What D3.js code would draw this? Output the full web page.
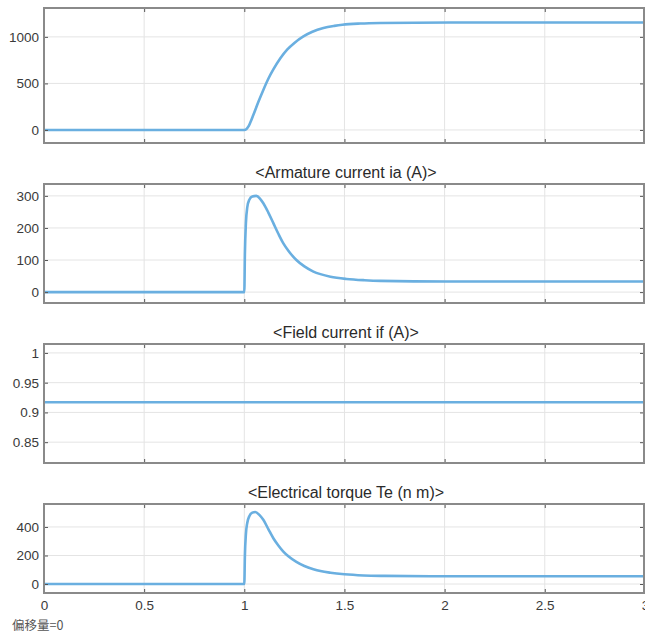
<!DOCTYPE html>
<html>
<head>
<meta charset="utf-8">
<script src="https://cdn.jsdelivr.net/npm/d3@7"></script>
<style>
  body { margin: 0; background: #fff; }
  .tick text { font-family: "Liberation Sans", Arial, sans-serif; font-size: 13.5px; fill: #3a3a3a; }
  .title { font-family: "Liberation Sans", Arial, sans-serif; font-size: 16px; fill: #2a2a2a; }
</style>
</head>
<body>
<div id="chart"></div>
<script>
// Speed (top panel, title cropped off)
var speedTime   = [0, 1.0, 1.01, 1.02, 1.03, 1.045, 1.07, 1.095, 1.12, 1.145, 1.18, 1.215, 1.25, 1.295, 1.34, 1.395, 1.45, 1.49, 1.58, 1.68, 1.85, 2.03, 2.5, 3.0];
var speedValues = [0, 0, 8, 35, 80, 160, 300, 430, 550, 650, 770, 865, 935, 1005, 1055, 1095, 1118, 1130, 1143, 1149, 1152, 1154, 1155, 1155];

// Armature current ia (A)
var iaTime   = [0, 1.0, 1.003, 1.008, 1.015, 1.025, 1.04, 1.06, 1.08, 1.095, 1.12, 1.145, 1.17, 1.195, 1.22, 1.26, 1.3, 1.345, 1.38, 1.43, 1.51, 1.6, 1.68, 2.01, 2.5, 3.0];
var iaValues = [0, 0, 120, 215, 265, 288, 298, 300, 290, 277, 248, 215, 182, 152, 129, 100, 80, 64, 56, 48, 41, 37, 35, 33, 33, 33];

// Field current if (A)
var ifTime   = [0, 3.0];
var ifValues = [0.917, 0.917];

// Electrical torque Te (n m)
var teTime   = [0, 1.0, 1.003, 1.008, 1.015, 1.025, 1.04, 1.055, 1.075, 1.095, 1.12, 1.145, 1.17, 1.195, 1.22, 1.26, 1.3, 1.345, 1.38, 1.43, 1.5, 1.595, 1.7, 2.01, 2.5, 3.0];
var teValues = [0, 0, 200, 350, 430, 475, 500, 505, 485, 450, 385, 321, 270, 227, 194, 155, 126, 104, 91, 79, 68, 60, 57, 54, 54, 54];

var xTicks = [0, 0.5, 1, 1.5, 2, 2.5, 3];
var xTickLabels = ["0", "0.5", "1", "1.5", "2", "2.5", "3"];

var panels = [
  { title: null, time: speedTime, values: speedValues, top: 8, bottom: 143, domain: [-140, 1310], ticks: [0, 500, 1000] },
  { title: "<Armature current ia (A)>", time: iaTime, values: iaValues, top: 184, bottom: 303, domain: [-34, 337], ticks: [0, 100, 200, 300] },
  { title: "<Field current if (A)>", time: ifTime, values: ifValues, top: 344, bottom: 463, domain: [0.815, 1.015], ticks: [0.85, 0.9, 0.95, 1] },
  { title: "<Electrical torque Te (n m)>", time: teTime, values: teValues, top: 504, bottom: 593, domain: [-63, 561], ticks: [0, 200, 400] }
];

var svgWidth = 645;
var svgHeight = 634;
var left = 44, right = 644;

var svg = d3.select("#chart")
  .append("svg")
  .attr("width", svgWidth)
  .attr("height", svgHeight);

var xScale = d3.scaleLinear()
  .domain([0, 3])
  .range([left, left + 200.3 * 3]);

panels.forEach(function(p, i) {
  var yScale = d3.scaleLinear()
    .domain(p.domain)
    .range([p.bottom, p.top]);

  var g = svg.append("g");

  // grid
  g.selectAll(".vgrid")
    .data(xTicks.slice(1))
    .enter()
    .append("line")
    .attr("x1", d => xScale(d))
    .attr("x2", d => xScale(d))
    .attr("y1", p.top)
    .attr("y2", p.bottom)
    .attr("stroke", "#e4e4e4")
    .attr("stroke-width", 1);

  g.selectAll(".hgrid")
    .data(p.ticks)
    .enter()
    .append("line")
    .attr("x1", left)
    .attr("x2", right)
    .attr("y1", d => yScale(d))
    .attr("y2", d => yScale(d))
    .attr("stroke", "#e4e4e4")
    .attr("stroke-width", 1);

  // line
  var line = d3.line()
    .x(d => xScale(d[0]))
    .y(d => yScale(d[1]))
    .curve(d3.curveMonotoneX);

  g.append("path")
    .datum(d3.zip(p.time, p.values))
    .attr("d", line)
    .attr("fill", "none")
    .attr("stroke", "#6aafe0")
    .attr("stroke-width", 2.6);

  // left axis (inward ticks)
  var leftAxis = d3.axisLeft(yScale)
    .tickValues(p.ticks)
    .tickFormat(d3.format("~g"))
    .tickSizeInner(-4)
    .tickSizeOuter(0)
    .tickPadding(5);
  var ya = g.append("g")
    .attr("transform", `translate(${left}, 0)`)
    .call(leftAxis);
  ya.select(".domain").remove();
  ya.selectAll(".tick line").attr("stroke", "#555");

  // right ticks
  var rightAxis = d3.axisRight(yScale)
    .tickValues(p.ticks)
    .tickFormat("")
    .tickSizeInner(-4)
    .tickSizeOuter(0);
  var yr = g.append("g")
    .attr("transform", `translate(${right}, 0)`)
    .call(rightAxis);
  yr.select(".domain").remove();
  yr.selectAll(".tick line").attr("stroke", "#555");

  // top ticks
  var topAxis = d3.axisTop(xScale)
    .tickValues(xTicks)
    .tickFormat("")
    .tickSizeInner(-4)
    .tickSizeOuter(0);
  var xt = g.append("g")
    .attr("transform", `translate(0, ${p.top})`)
    .call(topAxis);
  xt.select(".domain").remove();
  xt.selectAll(".tick line").attr("stroke", "#555");

  // bottom ticks, labels only on last panel
  var bottomAxis = d3.axisBottom(xScale)
    .tickValues(xTicks)
    .tickFormat((d, k) => i === panels.length - 1 ? xTickLabels[k] : "")
    .tickSizeInner(-4)
    .tickSizeOuter(0)
    .tickPadding(7);
  var xb = g.append("g")
    .attr("transform", `translate(0, ${p.bottom})`)
    .call(bottomAxis);
  xb.select(".domain").remove();
  xb.selectAll(".tick line").attr("stroke", "#555");

  // frame
  g.append("rect")
    .attr("x", left)
    .attr("y", p.top)
    .attr("width", right - left)
    .attr("height", p.bottom - p.top)
    .attr("fill", "none")
    .attr("stroke", "#8a8a8a")
    .attr("stroke-width", 2);

  if (p.title) {
    g.append("text")
      .attr("class", "title")
      .attr("x", (left + right) / 2 + 2)
      .attr("y", p.top - 6)
      .attr("text-anchor", "middle")
      .text(p.title);
  }
});

// offset note
svg.append("text")
  .attr("x", 12)
  .attr("y", 630)
  .attr("font-family", "'Noto Sans CJK SC', sans-serif")
  .attr("font-size", "12.5px")
  .attr("fill", "#555")
  .text("偏移量=0");
</script>
</body>
</html>
